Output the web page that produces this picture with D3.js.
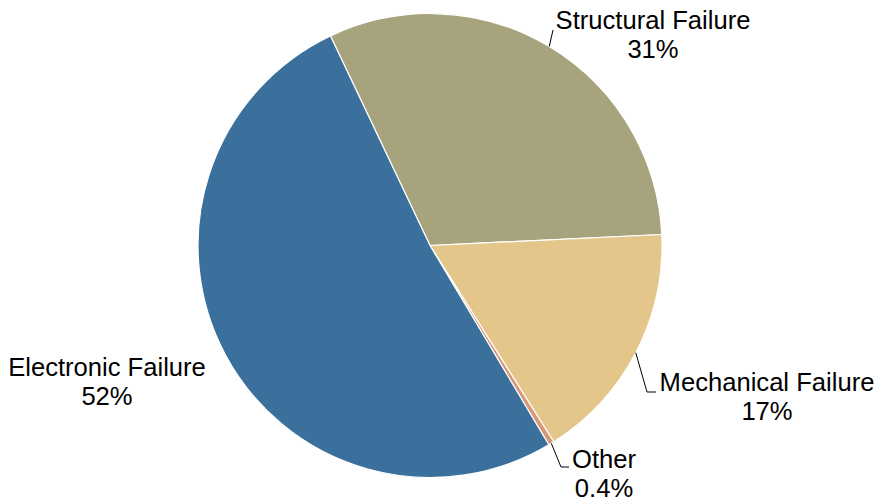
<!DOCTYPE html>
<html>
<head>
<meta charset="utf-8">
<script src="https://cdn.jsdelivr.net/npm/d3@7"></script>
<style>
  body { margin: 0; background: #fff; }
  text { font-family: Arial, "Liberation Sans", sans-serif; font-size: 25.6px; fill: #000; }
</style>
</head>
<body>
<svg id="chart" width="878" height="502"></svg>
<script>
// Data
const categories = ["Structural Failure", "Mechanical Failure", "Other", "Electronic Failure"]
const values = [31.3, 16.8, 0.4, 51.5]
const pctLabels = ["31%", "17%", "0.4%", "52%"]
const colours = ["#A7A47D", "#E5C68A", "#D8997A", "#3B6F9C"]

// Layout
const params = {
    cx: 430,
    cy: 245.5,
    radius: 232,
    startDeg: -25.4
}
// label anchor (text centre x, first baseline) and leader bends, per slice
const labelLayout = [
    { x: 653, y: 29, leader: [[553, 30]] },
    { x: 767, y: 391, leader: [[647, 392], [656, 392]] },
    { x: 604, y: 468, leader: [[561, 467], [569, 467]] },
    { x: 107, y: 376, leader: null }
]

const svg = d3.select("#chart")
const g = svg.append("g").attr("transform", `translate(${params.cx},${params.cy})`)

const start = params.startDeg * Math.PI / 180
const pie = d3.pie().sort(null).value(d => d.value)
    .startAngle(start).endAngle(start + 2 * Math.PI)

const data = categories.map((c, i) => ({ name: c, value: values[i], pct: pctLabels[i], colour: colours[i], layout: labelLayout[i] }))
const arcs = pie(data)

const arc = d3.arc().innerRadius(0).outerRadius(params.radius)
const edge = d3.arc().innerRadius(params.radius).outerRadius(params.radius)

g.selectAll("path.slice")
    .data(arcs)
    .join("path")
    .attr("class", "slice")
    .attr("d", arc)
    .attr("fill", d => d.data.colour)
    .attr("stroke", "#fff")
    .attr("stroke-width", 1.2)
    .attr("stroke-linejoin", "round")

// leader lines
arcs.forEach(function(d){
    if(!d.data.layout.leader) return
    const p = edge.centroid(d)
    const pts = [[p[0] + params.cx, p[1] + params.cy]].concat(d.data.layout.leader)
    svg.append("path")
        .attr("d", d3.line()(pts))
        .attr("fill", "none")
        .attr("stroke", "#000")
        .attr("stroke-width", 1)
})

// labels
const labels = svg.selectAll("text.lbl")
    .data(arcs)
    .join("text")
    .attr("class", "lbl")
    .attr("text-anchor", "middle")

labels.append("tspan")
    .attr("x", d => d.data.layout.x)
    .attr("y", d => d.data.layout.y)
    .text(d => d.data.name)
labels.append("tspan")
    .attr("x", d => d.data.layout.x)
    .attr("y", d => d.data.layout.y + 29)
    .text(d => d.data.pct)
</script>
</body>
</html>
